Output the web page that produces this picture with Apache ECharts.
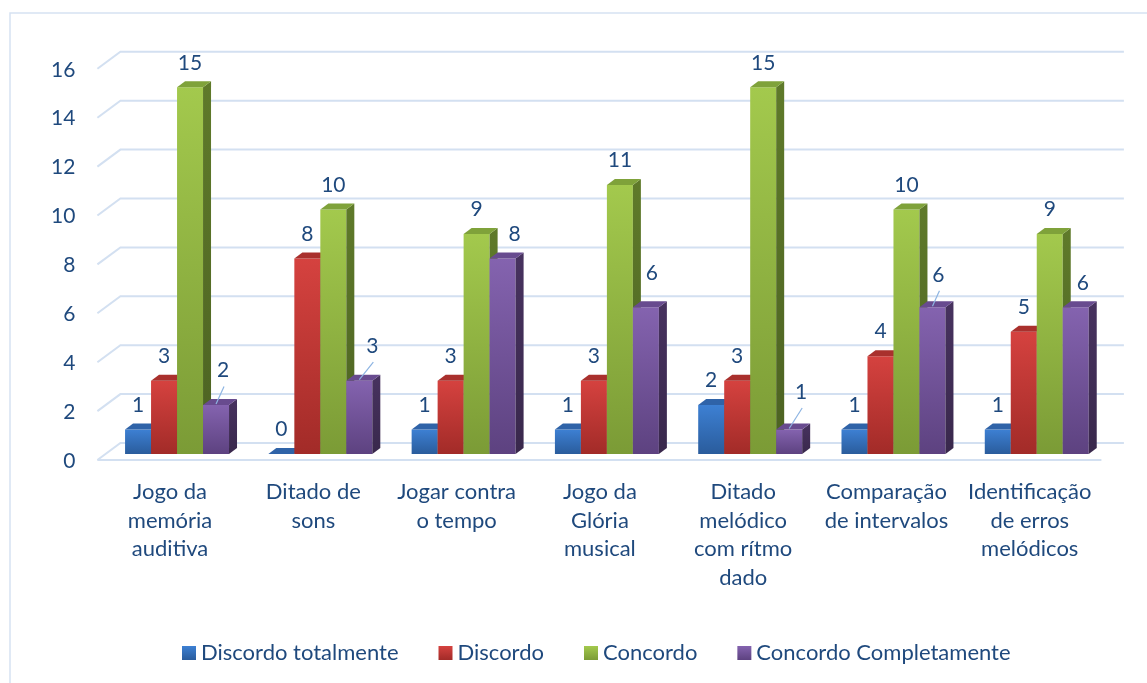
<!DOCTYPE html>
<html>
<head>
<meta charset="utf-8">
<script src="https://cdn.jsdelivr.net/npm/echarts@6/dist/echarts.min.js"></script>
<style>
  html, body { margin: 0; padding: 0; background: #ffffff; }
  #chart { width: 1147px; height: 683px; }
</style>
</head>
<body>
<div id="chart"></div>
<script>
// Survey answers per activity (number of respondents)
const categories = [
  'Jogo da\nmemória\nauditiva',
  'Ditado de\nsons',
  'Jogar contra\no tempo',
  'Jogo da\nGlória\nmusical',
  'Ditado\nmelódico\ncom rítmo\ndado',
  'Comparação\nde intervalos',
  'Identificação\nde erros\nmelódicos'
];
const seriesNames = ['Discordo totalmente', 'Discordo', 'Concordo', 'Concordo Completamente'];
const discordoTotalmente    = [1, 0, 1, 1, 2, 1, 1];
const discordo              = [3, 8, 3, 3, 3, 4, 5];
const concordo              = [15, 10, 9, 11, 15, 10, 9];
const concordoCompletamente = [2, 3, 8, 6, 1, 6, 6];
const yTicks = [0, 2, 4, 6, 8, 10, 12, 14, 16];

const TEXT = '#1F497D';
const FONT = 'Lato, "Open Sans", sans-serif';
const GRID_LINE = '#D3E0F1';

// Block depth of each column and of the wall/floor
const DX = 8, DY = 6;
const WALL_BACK = [15, -11], WALL_FRONT = [-8, 6];

// Face colours per level: [front top, front bottom, top face, side face]
const palette = [
  ['#3D80D3', '#2A5C9C', '#2F63A8', '#25507F'],
  ['#D5423F', '#A22B28', '#A9302D', '#862321'],
  ['#A3C94D', '#7B9B36', '#7FA23A', '#5F7A2A'],
  ['#8463AF', '#5D4280', '#684B8F', '#47325F']
];

// Label nudges for the last column of each group: [dx, dy, leader line]
const lastLabelNudge = {
  0: [7, -10, true], 1: [13, -10, true], 2: [12, 0, false], 3: [6, -10, false],
  4: [12, -13, true], 5: [6, -8, true], 6: [7, 0, false]
};

function grad(c1, c2) {
  return new echarts.graphic.LinearGradient(0, 0, 0, 1, [
    { offset: 0, color: c1 }, { offset: 1, color: c2 }
  ]);
}

function shade(hex) {
  const n = parseInt(hex.slice(1), 16);
  const r = Math.round(((n >> 16) & 255) * 0.8), g = Math.round(((n >> 8) & 255) * 0.8), b = Math.round((n & 255) * 0.8);
  return 'rgb(' + r + ',' + g + ',' + b + ')';
}

function barRenderer(level) {
  const col = palette[level];
  return function (params, api) {
    const cat = api.value(0), v = api.value(1);
    const base = api.coord([cat, 0]);
    const top = api.coord([cat, v]);
    const band = api.size([1, 0])[0];
    const bw = band * 0.1814;
    const x = base[0] - 2 * bw + level * bw;
    const yb = base[1], yt = top[1];
    const children = [];
    if (v > 0) {
      // front face
      children.push({
        type: 'rect', shape: { x: x, y: yt, width: bw, height: yb - yt },
        style: { fill: grad(col[0], col[1]) }
      });
      // right side face
      children.push({
        type: 'polygon',
        shape: { points: [[x + bw, yt], [x + bw + DX, yt - DY], [x + bw + DX, yb - DY], [x + bw, yb]] },
        style: { fill: grad(col[3], shade(col[3])) }
      });
    }
    // top face
    children.push({
      type: 'polygon',
      shape: { points: [[x, yt], [x + DX, yt - DY], [x + bw + DX, yt - DY], [x + bw, yt]] },
      style: { fill: col[2] }
    });
    // value label
    let lx = x + bw / 2, ly = yt - 24.5;
    const nudge = level === 3 ? lastLabelNudge[cat] : null;
    if (nudge) {
      lx += nudge[0]; ly += nudge[1];
      if (nudge[2]) {
        children.push({
          type: 'line', z2: 99,
          shape: { x1: x + bw / 2, y1: yt - 1, x2: lx + 1, y2: ly + 16 },
          style: { stroke: '#8DB4E2', lineWidth: 1.2 }
        });
      }
    }
    children.push({
      type: 'text', z2: 100, x: lx, y: ly,
      style: { text: String(v), fill: TEXT, font: '21px ' + FONT, align: 'center', verticalAlign: 'middle' }
    });
    return { type: 'group', children: children };
  };
}

// Back wall gridlines, floor edge and value-axis labels
function wallRenderer(params, api) {
  const cs = params.coordSys;
  const v = api.value(1);
  const y = api.coord([0, v])[1];
  const fx = cs.x + WALL_FRONT[0], fy = y + WALL_FRONT[1];
  const bx = cs.x + WALL_BACK[0], by = y + WALL_BACK[1];
  const children = [{
    type: 'polyline',
    shape: { points: [[fx, fy], [bx, by], [cs.x + cs.width + WALL_BACK[0] + 0.5, by]] },
    style: { stroke: GRID_LINE, lineWidth: 2, fill: null }
  }];
  if (v === 0) {
    children.push({
      type: 'line',
      shape: { x1: fx, y1: fy, x2: cs.x + cs.width - 7, y2: fy },
      style: { stroke: GRID_LINE, lineWidth: 2 }
    });
  }
  children.push({
    type: 'text', x: fx - 22, y: fy + 1,
    style: { text: String(v), fill: TEXT, font: '21px ' + FONT, align: 'right', verticalAlign: 'middle' }
  });
  return { type: 'group', children: children };
}

const levels = [discordoTotalmente, discordo, concordo, concordoCompletamente];

const chart = echarts.init(document.getElementById('chart'), null, { renderer: 'canvas' });
chart.setOption({
  animation: false,
  backgroundColor: '#ffffff',
  graphic: [{
    type: 'rect', z: 0,
    shape: { x: 10, y: 13, width: 1200, height: 720 },
    style: { fill: null, stroke: '#D6E2F2', lineWidth: 1.5 }
  }],
  legend: {
    left: 177, top: 637,
    icon: 'rect', itemWidth: 14, itemHeight: 14, itemGap: 40,
    textStyle: { color: TEXT, fontFamily: FONT, fontSize: 22 },
    data: seriesNames
  },
  grid: { left: 105.4, right: 38.6, top: 62.8, bottom: 229 },
  xAxis: {
    type: 'category', data: categories,
    axisLine: { show: false }, axisTick: { show: false },
    axisLabel: {
      interval: 0, margin: 24, color: TEXT, fontFamily: FONT, fontSize: 22,
      lineHeight: 28.5, padding: [0, 14, 0, 0]
    }
  },
  yAxis: {
    type: 'value', min: 0, max: 16, interval: 2,
    axisLine: { show: false }, axisTick: { show: false },
    axisLabel: { show: false }, splitLine: { show: false }
  },
  series: [{
    type: 'custom', name: 'wall', z: 1, silent: true,
    renderItem: wallRenderer,
    data: yTicks.map(function (t) { return [0, t]; }),
    encode: { x: 0, y: 1 }
  }].concat(levels.map(function (vals, li) {
    return {
      type: 'custom', name: seriesNames[li], z: 2,
      renderItem: barRenderer(li),
      itemStyle: { color: grad(palette[li][0], palette[li][1]) },
      data: vals.map(function (v, i) { return [i, v]; }),
      encode: { x: 0, y: 1 }
    };
  }))
});
</script>
</body>
</html>
